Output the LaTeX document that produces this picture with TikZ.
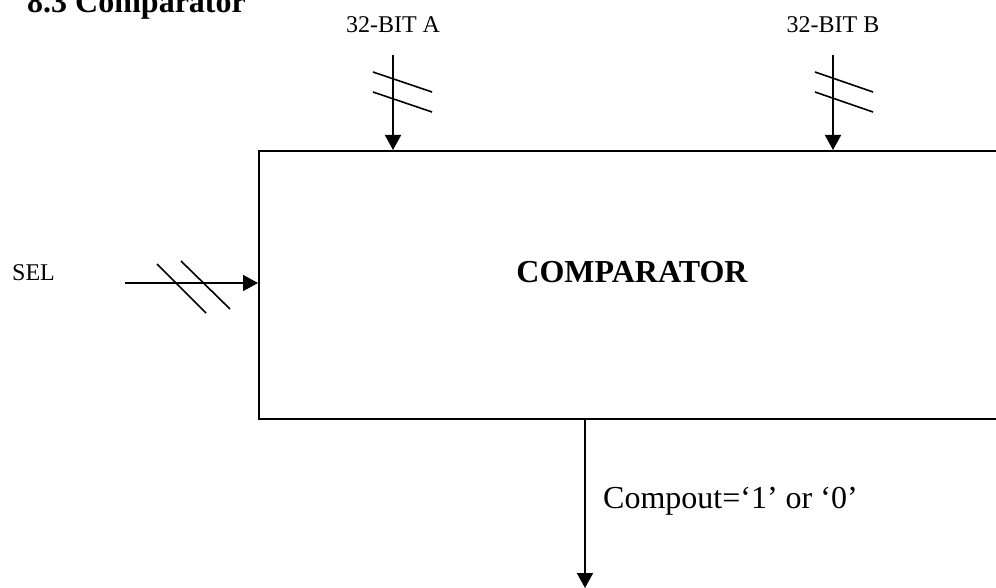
\documentclass[tikz,border=0pt]{standalone}
\usepackage{fontspec}
\setmainfont{Liberation Serif}
\usetikzlibrary{arrows.meta}
\begin{document}
\begin{tikzpicture}[x=1pt,y=-1pt,
  wire/.style={line width=1.8pt,-{Triangle[width=16pt,length=15pt]}},
  slash/.style={line width=1.6pt},
  small/.style={inner sep=0pt,anchor=base,font=\fontsize{24}{28}\selectfont},
  big/.style={inner sep=0pt,font=\fontsize{32}{38}\selectfont}]
\useasboundingbox (0,0) rectangle (996,588);
% box
\node[draw,line width=2pt,minimum width=748pt,minimum height=268pt,anchor=north west,inner sep=0pt] (comp) at (258,150) {};
\node[big,anchor=base,font=\fontsize{32}{38}\selectfont\bfseries] (ctext) at (632,283) {COMPARATOR};
% title
\node[big,anchor=base west,font=\fontsize{32}{38}\selectfont\bfseries] (title) at (27,13) {8.3 Comparator};
% labels
\node[small] (la) at (393,33) {32-BIT A};
\node[small] (lb) at (833,33) {32-BIT B};
\node[small,anchor=base west] (lsel) at (12,280) {SEL};
\node[big,anchor=base west] (lout) at (603,508) {Compout=‘1’ or ‘0’};
% connector ends
\coordinate (aS) at (393,55);
\coordinate (aE) at (393,150);
\coordinate (bS) at (833,55);
\coordinate (bE) at (833,150);
\coordinate (sS) at (125,283);
\coordinate (sE) at (258,283);
\coordinate (oS) at (585,418);
\coordinate (oE) at (585,588);
\draw[wire] (aS) -- (aE);
\draw[wire] (bS) -- (bE);
\draw[wire] (sS) -- (sE);
\draw[wire] (oS) -- (oE);
% bus slashes
\coordinate (a1) at (373,72); \coordinate (a2) at (432,92);
\coordinate (a3) at (373,92); \coordinate (a4) at (432,112);
\coordinate (b1) at (815,72); \coordinate (b2) at (873,92);
\coordinate (b3) at (815,92); \coordinate (b4) at (873,112);
\coordinate (s1) at (157,264); \coordinate (s2) at (206,313);
\coordinate (s3) at (181,261); \coordinate (s4) at (230,309);
\draw[slash] (a1) -- (a2); \draw[slash] (a3) -- (a4);
\draw[slash] (b1) -- (b2); \draw[slash] (b3) -- (b4);
\draw[slash] (s1) -- (s2); \draw[slash] (s3) -- (s4);
\end{tikzpicture}
\end{document}
